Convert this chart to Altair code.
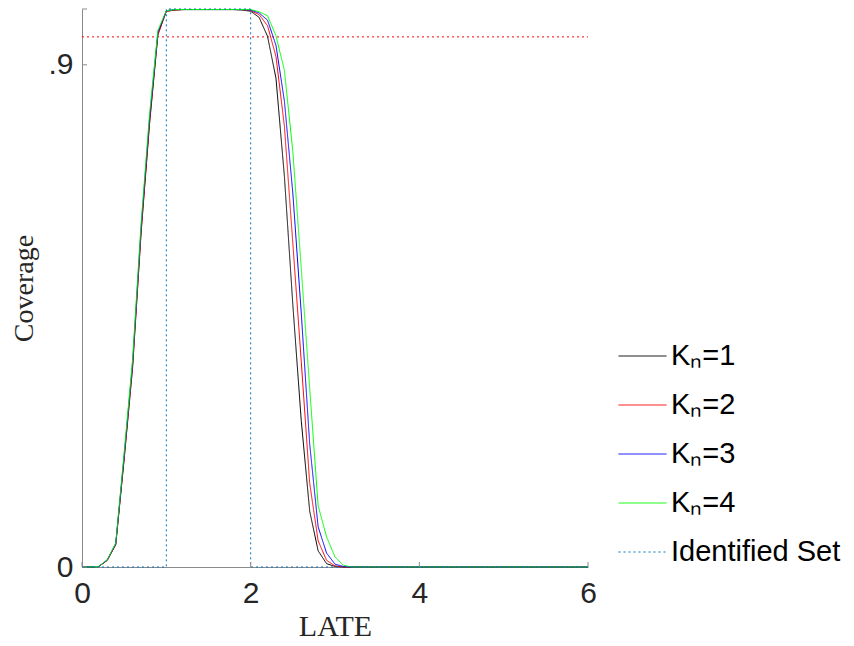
import altair as alt
import pandas as pd

# ---- data ----
x_grid = [0.0, 0.1, 0.2, 0.3, 0.4, 0.5, 0.6, 0.7, 0.8, 0.9, 1.0,
          1.1, 1.2, 1.3, 1.4, 1.5, 1.6, 1.7, 1.8, 1.9, 2.0,
          2.1, 2.2, 2.3, 2.4, 2.5, 2.6, 2.7, 2.8, 2.9, 3.0,
          3.1, 3.2, 3.3, 3.4, 3.5, 3.6, 3.7, 3.8, 3.9, 4.0,
          4.1, 4.2, 4.3, 4.4, 4.5, 4.6, 4.7, 4.8, 4.9, 5.0,
          5.1, 5.2, 5.3, 5.4, 5.5, 5.6, 5.7, 5.8, 5.9, 6.0]

cov_k1 = [0, 0, 0.001, 0.012, 0.040, 0.195, 0.360, 0.600, 0.795, 0.955, 0.996,
          0.998, 0.999, 0.999, 0.999, 0.999, 0.999, 0.999, 0.999, 0.998, 0.996,
          0.985, 0.951, 0.876, 0.700, 0.470, 0.262, 0.100, 0.029, 0.006, 0.001,
          0, 0, 0, 0, 0, 0, 0, 0, 0, 0,
          0, 0, 0, 0, 0, 0, 0, 0, 0, 0,
          0, 0, 0, 0, 0, 0, 0, 0, 0, 0]
cov_k2 = [0, 0, 0.001, 0.012, 0.041, 0.193, 0.356, 0.596, 0.792, 0.953, 0.996,
          0.998, 0.999, 0.999, 0.999, 0.999, 0.999, 0.999, 0.999, 0.999, 0.997,
          0.990, 0.970, 0.915, 0.790, 0.580, 0.368, 0.150, 0.047, 0.012, 0.002,
          0, 0, 0, 0, 0, 0, 0, 0, 0, 0,
          0, 0, 0, 0, 0, 0, 0, 0, 0, 0,
          0, 0, 0, 0, 0, 0, 0, 0, 0, 0]
cov_k3 = [0, 0, 0.001, 0.013, 0.042, 0.200, 0.366, 0.607, 0.802, 0.958, 0.997,
          0.999, 0.999, 0.999, 0.999, 0.999, 0.999, 0.999, 0.999, 0.999, 0.998,
          0.993, 0.980, 0.935, 0.835, 0.670, 0.455, 0.220, 0.072, 0.025, 0.005,
          0.001, 0, 0, 0, 0, 0, 0, 0, 0, 0,
          0, 0, 0, 0, 0, 0, 0, 0, 0, 0,
          0, 0, 0, 0, 0, 0, 0, 0, 0, 0]
cov_k4 = [0, 0, 0.001, 0.013, 0.043, 0.205, 0.372, 0.614, 0.810, 0.962, 0.997,
          0.999, 0.999, 0.999, 0.999, 0.999, 0.999, 0.999, 0.999, 0.999, 0.999,
          0.995, 0.988, 0.952, 0.890, 0.745, 0.535, 0.320, 0.110, 0.054, 0.018,
          0.003, 0, 0, 0, 0, 0, 0, 0, 0, 0,
          0, 0, 0, 0, 0, 0, 0, 0, 0, 0,
          0, 0, 0, 0, 0, 0, 0, 0, 0, 0]

id_set_x = [0, 1, 1, 2, 2, 6]
id_set_y = [0, 0, 1, 1, 0, 0]

nominal_level = 0.95
x_range = [0, 6]

series_names = ["K\u2099=1", "K\u2099=2", "K\u2099=3", "K\u2099=4", "Identified Set"]
series_colors = ["#000000", "#FF0000", "#0000FF", "#00FF00", "#0072BD"]
series_dash = [[1, 0], [1, 0], [1, 0], [1, 0], [2, 3]]

x_ticks = [0, 2, 4, 6]
y_ticks = [0, 0.9, 1]

# ---- tables ----
rows = []
for name, vals in zip(series_names[:4], [cov_k1, cov_k2, cov_k3, cov_k4]):
    for i, (xv, yv) in enumerate(zip(x_grid, vals)):
        rows.append({"x": xv, "y": yv, "series": name, "order": i})
df = pd.DataFrame(rows)
id_df = pd.DataFrame({"x": id_set_x, "y": id_set_y, "series": series_names[4],
                      "order": list(range(len(id_set_x)))})

ref_df = pd.DataFrame({"x": x_range, "y": [nominal_level, nominal_level]})
xt_df = pd.DataFrame({"x": x_ticks})
yt_df = pd.DataFrame({"y": y_ticks})

W, H = 506, 558
AX = "#8a8a8a"
LAB = "#262626"
SANS = "Liberation Sans"
SERIF = "Liberation Serif"

xscale = alt.Scale(domain=[0, 6], nice=False, zero=False)
yscale = alt.Scale(domain=[0, 1], nice=False, zero=False)
cscale = alt.Scale(domain=series_names, range=series_colors)
dscale = alt.Scale(domain=series_names, range=series_dash)

x_axis = alt.Axis(values=x_ticks, format="d", labelFlush=False, ticks=False, grid=False,
                  domainColor=AX, domainWidth=1,
                  labelFont=SANS, labelFontSize=30, labelColor=LAB, labelPadding=11,
                  title="LATE", titleFont=SERIF, titleFontSize=30, titleFontWeight="normal",
                  titleColor=LAB, titleX=W / 2, titleY=59, titleBaseline="middle")
y_axis = alt.Axis(values=y_ticks, ticks=False, grid=False, labelFlush=False,
                  domainColor=AX, domainWidth=1,
                  labelExpr="datum.value == 0 ? '0' : (datum.value == 0.9 ? '.9' : '')",
                  labelFont=SANS, labelFontSize=30, labelColor=LAB, labelPadding=9,
                  title="Coverage", titleFont=SERIF, titleFontSize=28, titleFontWeight="normal",
                  titleColor=LAB, titleX=-58, titleY=H / 2, titleBaseline="middle", titleAngle=-90)

ref = alt.Chart(ref_df).mark_line(color="#FF0000", strokeWidth=1, strokeDash=[2, 3]).encode(
    x=alt.X("x:Q", scale=xscale, axis=x_axis),
    y=alt.Y("y:Q", scale=yscale, axis=y_axis),
)

legend = alt.Legend(
    title=None, orient="none", legendX=536, legendY=322.5,
    symbolType="stroke", symbolSize=2304, symbolStrokeWidth=1,
    labelFont=SANS, labelFontSize=29, labelColor="#000000", labelLimit=320,
    labelOffset=4, rowPadding=9,
)

lines = alt.Chart(df).mark_line(strokeWidth=1).encode(
    x=alt.X("x:Q", scale=xscale),
    y=alt.Y("y:Q", scale=yscale),
    color=alt.Color("series:N", scale=cscale, legend=legend),
    strokeDash=alt.StrokeDash("series:N", scale=dscale, legend=legend),
    order=alt.Order("order:Q"),
)

idset = alt.Chart(id_df).mark_line(strokeWidth=1).encode(
    x=alt.X("x:Q", scale=xscale),
    y=alt.Y("y:Q", scale=yscale),
    color=alt.Color("series:N", scale=cscale, legend=legend),
    strokeDash=alt.StrokeDash("series:N", scale=dscale, legend=legend),
    order=alt.Order("order:Q"),
)

xt = alt.Chart(xt_df).mark_rule(color=AX, strokeWidth=1).encode(
    x=alt.X("x:Q", scale=xscale), y=alt.value(H), y2=alt.value(H - 5))
yt = alt.Chart(yt_df).mark_rule(color=AX, strokeWidth=1).encode(
    y=alt.Y("y:Q", scale=yscale), x=alt.value(0), x2=alt.value(5))

chart = alt.layer(ref, lines, idset, xt, yt).properties(
    width=W, height=H,
    autosize=alt.AutoSizeParams(type="none"),
    padding={"left": 74, "top": 1, "right": 258, "bottom": 76},
).configure(background="white").configure_view(stroke=None)

chart.save("out.html", embed_options={"renderer": "svg", "actions": False})
